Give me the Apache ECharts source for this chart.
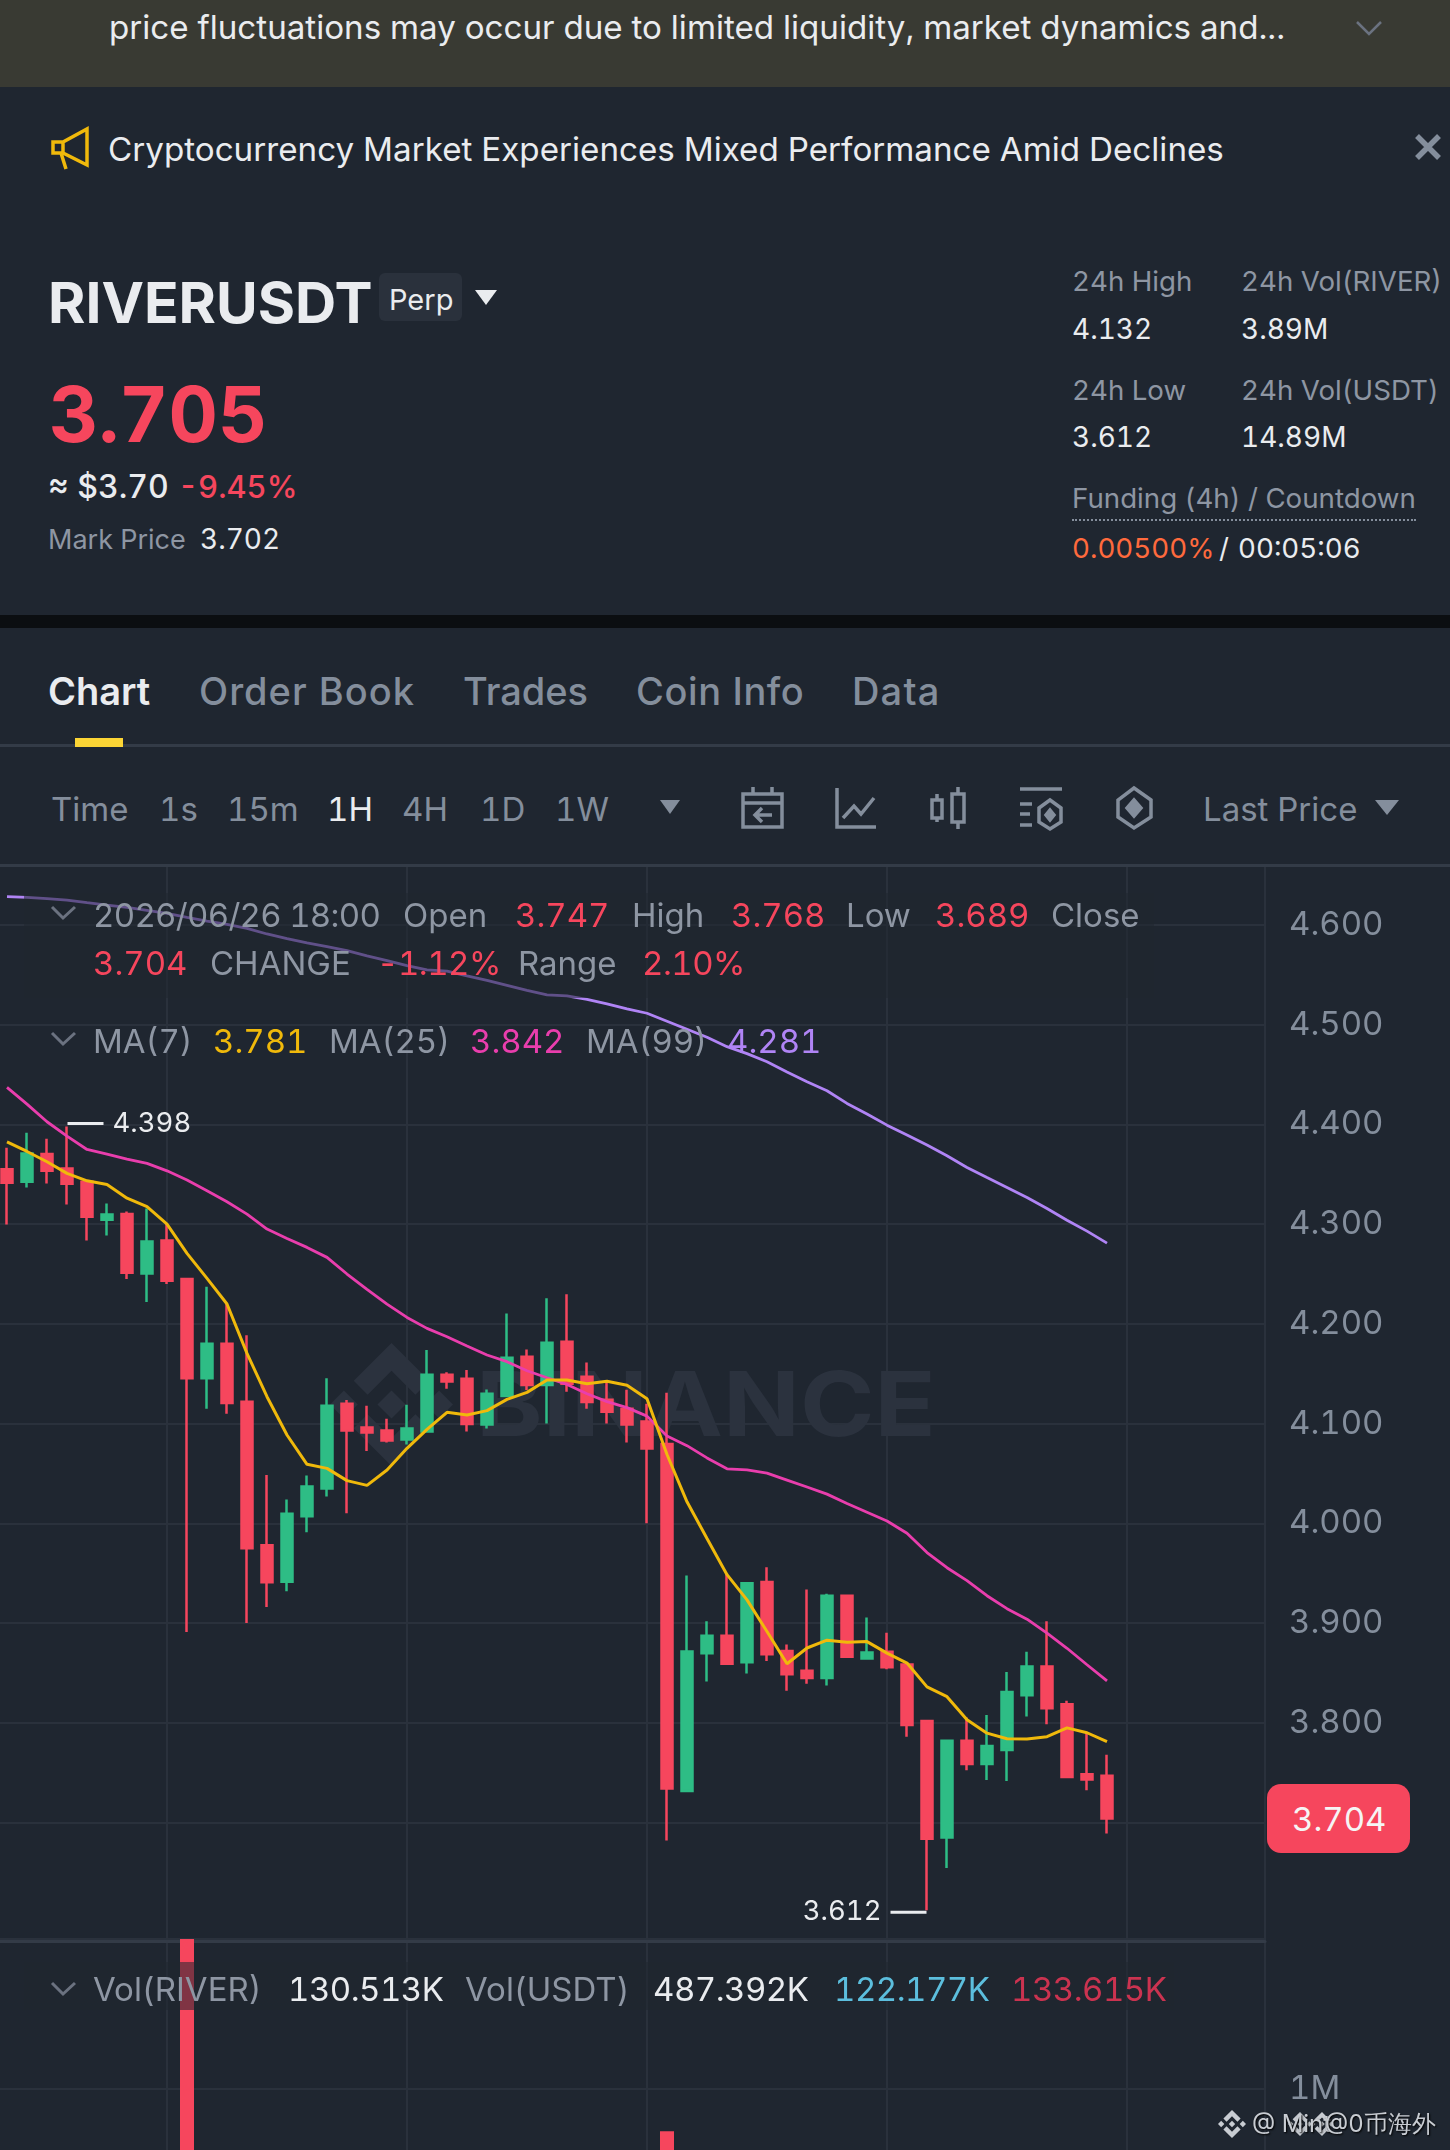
<!DOCTYPE html>
<html><head><meta charset="utf-8">
<script src="https://cdn.jsdelivr.net/npm/echarts@6/dist/echarts.min.js"></script>
<style>
html,body{margin:0;padding:0;background:#1F2630;width:1450px;height:2150px;overflow:hidden;font-family:Inter,"Noto Sans",sans-serif;font-variant-numeric:tabular-nums}
#chart{position:absolute;left:0;top:0;width:1450px;height:2150px}
.b{position:absolute}
.t{position:absolute;white-space:nowrap;transform:translateY(-50%);color:#848E9C;line-height:1.2}
.g{color:#8E96A3}.w{color:#EAECEF}.r{color:#F6465D}
.s{font-size:27.7px}.v{font-size:28px}.l{font-size:33px}.tab{font-size:38px;font-weight:500}
.k{letter-spacing:-.5px}
svg{position:absolute;overflow:visible}
</style></head><body>
<div id="chart"></div>
<div class="b" style="left:0;top:0;width:1450px;height:87px;background:#393A33"></div>
<div class="b" style="left:0;top:87px;width:1450px;height:528px;background:#1F2630"></div>
<div class="b" style="left:0;top:615px;width:1450px;height:13px;background:#0B0E11"></div>
<div class="b" style="left:0;top:628px;width:1450px;height:237px;background:#1F2630"></div>
<div class="b" style="left:0;top:744px;width:1450px;height:3px;background:#333B47"></div>
<div class="b" style="left:75px;top:738px;width:48px;height:9px;background:#FCD535"></div>
<div class="b" style="left:0;top:864px;width:1450px;height:3px;background:#333B47"></div>

<span class="t w" style="left:109px;top:28px;font-size:33.15px">price fluctuations may occur due to limited liquidity, market dynamics and...</span>
<svg style="left:1355px;top:20px" width="28" height="16"><path d="M2 2L14 14L26 2" fill="none" stroke="#6B7280" stroke-width="2.5"/></svg>
<svg style="left:51px;top:127px" width="38" height="44"><path d="M2 15H12L36 2V38L12 26H2ZM12 15V26M10 26L15 42" fill="none" stroke="#F0B90B" stroke-width="3.5"/></svg>
<span class="t w" style="left:108px;top:150px;font-size:33.2px">Cryptocurrency Market Experiences Mixed Performance Amid Declines</span>
<svg style="left:1414px;top:133px" width="28" height="28"><path d="M3 3L25 25M25 3L3 25" stroke="#848E9C" stroke-width="5.5"/></svg>

<span class="t w" style="left:48px;top:303px;font-size:57px;font-weight:700">RIVERUSDT</span>
<div class="b" style="left:379px;top:273px;width:83px;height:48px;background:#2A313C;border-radius:6px"></div>
<span class="t w" style="left:389px;top:300px;font-size:29px">Perp</span>
<svg style="left:475px;top:290px" width="22" height="15"><path d="M0 0H22L11 15Z" fill="#EAECEF"/></svg>
<span class="t r" style="left:49px;top:415px;font-size:76.5px;font-weight:700">3.705</span>
<span class="t w" style="left:48px;top:487px;font-size:32px;font-weight:500">≈ $3.70</span>
<span class="t r" style="left:178px;top:487px;font-size:31px;font-weight:500">-9.45%</span>
<span class="t g" style="left:48px;top:540px;font-size:27px">Mark Price</span>
<span class="t w v" style="left:200px;top:540px">3.702</span>

<span class="t g s" style="left:1072px;top:282px">24h High</span><span class="t g s" style="left:1241px;top:282px">24h Vol(RIVER)</span>
<span class="t w v" style="left:1072px;top:330px">4.132</span><span class="t w v" style="left:1241px;top:330px">3.89M</span>
<span class="t g s" style="left:1072px;top:391px">24h Low</span><span class="t g s" style="left:1241px;top:391px">24h Vol(USDT)</span>
<span class="t w v" style="left:1072px;top:438px">3.612</span><span class="t w v" style="left:1241px;top:438px">14.89M</span>
<span class="t g s" style="left:1072px;top:499px">Funding (4h) / Countdown</span>
<div class="b" style="left:1072px;top:519px;width:344px;height:0;border-top:2px dotted #848E9C"></div>
<span class="t s" style="left:1072px;top:549px;color:#FF6A3D">0.00500%</span>
<span class="t w s" style="left:1219px;top:549px">/</span>
<span class="t w s" style="left:1238px;top:549px">00:05:06</span>

<span class="t tab w" style="left:48px;top:692px;font-weight:600">Chart</span>
<span class="t tab" style="left:199px;top:692px;letter-spacing:1px">Order Book</span>
<span class="t tab" style="left:463px;top:692px">Trades</span>
<span class="t tab" style="left:636px;top:692px;letter-spacing:.6px">Coin Info</span>
<span class="t tab" style="left:852px;top:692px;letter-spacing:1.2px">Data</span>

<span class="t l" style="left:51px;top:810px">Time</span>
<span class="t l" style="left:159px;top:810px">1s</span>
<span class="t l" style="left:227px;top:810px">15m</span>
<span class="t l w" style="left:327px;top:810px">1H</span>
<span class="t l" style="left:402px;top:810px">4H</span>
<span class="t l" style="left:480px;top:810px">1D</span>
<span class="t l" style="left:555px;top:810px">1W</span>
<svg style="left:660px;top:800px" width="20" height="14"><path d="M0 0H20L10 14Z" fill="#848E9C"/></svg>
<svg style="left:741px;top:786px" width="44" height="44" fill="none" stroke="#848E9C" stroke-width="3.5"><path d="M2 8H41V41H2ZM2 17H41M12 1V8M31 1V8M31 29H14M21 22L14 29L21 36"/></svg>
<svg style="left:834px;top:786px" width="44" height="44" fill="none" stroke="#848E9C" stroke-width="3.5"><path d="M3 2V41H42M9 32L20 20L27 28L40 12"/></svg>
<svg style="left:930px;top:786px" width="38" height="44" fill="none" stroke="#848E9C" stroke-width="3.5"><path d="M2 14H12V32H2ZM7 8V14M7 32V36M22 8H34V36H22ZM28 1V8M28 36V43"/></svg>
<svg style="left:1020px;top:786px" width="44" height="44" fill="none" stroke="#848E9C" stroke-width="3.5"><path d="M0 3H42M0 18H12M0 39H12M0 28H10M30 14L41 22V36L30 43L19 36V22Z"/><path d="M30 24L34 29L30 34L26 29Z" fill="#848E9C"/></svg>
<svg style="left:1116px;top:786px" width="38" height="44" fill="none" stroke="#848E9C" stroke-width="3.5"><path d="M18 2L35 14V31L18 42L2 31V14Z"/><path d="M18 14L25 22L18 30L11 22Z" fill="#848E9C"/></svg>
<span class="t l" style="left:1203px;top:810px">Last Price</span>
<svg style="left:1375px;top:800px" width="24" height="15"><path d="M0 0H24L12 15Z" fill="#848E9C"/></svg>

<svg style="left:50px;top:905px" width="28" height="16"><path d="M2 2L13 13L25 2" fill="none" stroke="#6B7280" stroke-width="3"/></svg>
<span class="t g l" style="left:93px;top:916px;letter-spacing:-.7px">2026/06/26 18:00</span>
<span class="t g l" style="left:403px;top:916px">Open</span><span class="t r l" style="left:515px;top:916px">3.747</span>
<span class="t g l" style="left:632px;top:916px">High</span><span class="t r l" style="left:731px;top:916px">3.768</span>
<span class="t g l" style="left:846px;top:916px">Low</span><span class="t r l" style="left:935px;top:916px">3.689</span>
<span class="t g l" style="left:1051px;top:916px">Close</span>
<span class="t r l" style="left:93px;top:964px">3.704</span>
<span class="t g l" style="left:210px;top:964px">CHANGE</span><span class="t r l k" style="left:377px;top:964px">-1.12%</span>
<span class="t g l" style="left:518px;top:964px">Range</span><span class="t r l k" style="left:642px;top:964px">2.10%</span>
<svg style="left:50px;top:1031px" width="28" height="16"><path d="M2 2L13 13L25 2" fill="none" stroke="#6B7280" stroke-width="3"/></svg>
<span class="t g l" style="left:93px;top:1042px">MA(7)</span><span class="t l" style="left:213px;top:1042px;color:#F0B90B">3.781</span>
<span class="t g l" style="left:329px;top:1042px">MA(25)</span><span class="t l" style="left:470px;top:1042px;color:#E93EAD">3.842</span>
<span class="t g l" style="left:586px;top:1042px">MA(99)</span><span class="t l" style="left:727px;top:1042px;color:#B084F5">4.281</span>

<svg style="left:50px;top:1981px" width="28" height="16"><path d="M2 2L13 13L25 2" fill="none" stroke="#6B7280" stroke-width="3"/></svg>
<span class="t g l" style="left:93px;top:1990px">Vol(RIVER)</span><span class="t w l k" style="left:288px;top:1990px">130.513K</span>
<span class="t g l" style="left:465px;top:1990px">Vol(USDT)</span><span class="t w l k" style="left:653px;top:1990px">487.392K</span>
<span class="t l k" style="left:834px;top:1990px;color:#5CBEDD">122.177K</span>
<span class="t l k" style="left:1011px;top:1990px;color:#CB3350">133.615K</span>

<div class="b" style="left:1267px;top:1784px;width:143px;height:69px;background:#F6465D;border-radius:14px"></div>
<span class="t" style="left:1292px;top:1820px;font-size:33px;color:#F5F5F5">3.704</span>

<span class="t" style="left:1252px;top:2124px;font-size:24px;color:#C8CCD2;text-shadow:1px 1px 2px #000">@ Mint</span>
<span class="t" style="left:1325px;top:2124px;font-size:24px;color:#C8CCD2;text-shadow:1px 1px 2px #000">@0币海外</span>

<script>
const candleIndex = Array.from({length: 56}, (_, i) => i);
const opens = [4.355,4.3425,4.3703,4.3559,4.3425,4.3044,4.3101,4.2506,4.2837,4.245,4.1454,4.1801,4.122,3.978,3.9415,4.007,4.035,4.12,4.096,4.093,4.084,4.0922,4.149,4.145,4.0992,4.1276,4.1671,4.1387,4.1821,4.147,4.124,4.115,4.102,4.0796,3.7316,3.8698,3.8873,3.8606,3.9411,3.8719,3.8522,3.8448,3.9274,3.8645,3.8712,3.8585,3.8019,3.6849,3.7819,3.7587,3.7728,3.8276,3.8564,3.8185,3.7485,3.747];
const closes = [4.3415,4.3709,4.3535,4.3405,4.3074,4.3098,4.2513,4.2827,4.2433,4.1454,4.1801,4.1206,3.975,3.941,4.0097,4.037,4.118,4.093,4.091,4.083,4.095,4.149,4.1423,4.0996,4.13,4.1661,4.1387,4.1811,4.14,4.1216,4.112,4.099,4.075,3.734,3.8715,3.8873,3.8592,3.94,3.8687,3.8487,3.8448,3.9274,3.8663,3.8705,3.8557,3.7977,3.6838,3.7819,3.7587,3.7766,3.8308,3.8564,3.8146,3.7457,3.7432,3.704];
const lows = [4.2997,4.3368,4.3409,4.3198,4.2837,4.2887,4.245,4.2219,4.24,3.891,4.115,4.11,3.9,3.916,3.932,3.991,4.027,4.01,4.0726,4.081,4.079,4.0915,4.135,4.092,4.095,4.127,4.1337,4.1,4.132,4.115,4.1,4.081,4.0,3.682,3.7305,3.8413,3.858,3.8494,3.862,3.8322,3.8392,3.8374,3.8652,3.8634,3.8536,3.7861,3.612,3.6543,3.7524,3.7425,3.7415,3.8062,3.7984,3.7443,3.7323,3.689];
const highs = [4.3766,4.3916,4.3856,4.398,4.344,4.3208,4.3128,4.3158,4.3007,4.2456,4.2373,4.2206,4.1885,4.0485,4.024,4.048,4.1454,4.1236,4.118,4.105,4.119,4.1738,4.1514,4.1537,4.1343,4.2105,4.1744,4.2256,4.2296,4.1614,4.1417,4.134,4.12,4.131,3.9478,3.9018,3.95,3.9405,3.9559,3.8786,3.9337,3.9295,3.9274,3.9056,3.8902,3.8592,3.8019,3.7819,3.8054,3.8079,3.8508,3.8712,3.9018,3.822,3.7896,3.768];
const ma7 = [4.3826,4.3729,4.3626,4.3509,4.3435,4.3398,4.3261,4.3175,4.3001,4.2707,4.2456,4.2199,4.1704,4.127,4.0886,4.0592,4.0551,4.0428,4.0381,4.0535,4.0752,4.0942,4.1113,4.1086,4.113,4.1243,4.1313,4.1437,4.1437,4.14,4.1424,4.1384,4.125,4.069,4.0216,3.9847,3.9485,3.9232,3.8916,3.8592,3.875,3.8828,3.8807,3.8814,3.8698,3.8599,3.836,3.8262,3.803,3.7896,3.784,3.7837,3.7861,3.7949,3.79,3.781];
const ma25 = [4.4371,4.4204,4.4027,4.3883,4.3749,4.3703,4.3652,4.3609,4.3535,4.3442,4.3335,4.3225,4.3101,4.2951,4.2857,4.2767,4.2667,4.25,4.2346,4.2199,4.2065,4.1955,4.1871,4.1778,4.1688,4.1621,4.153,4.146,4.1393,4.13,4.122,4.116,4.1075,4.0875,4.0779,4.0656,4.0547,4.0536,4.0504,4.0434,4.0364,4.0293,4.0199,4.0111,4.0023,3.99,3.9707,3.9555,3.9425,3.9274,3.9144,3.9039,3.8898,3.8747,3.8582,3.842];
const ma99 = [4.6284,4.6277,4.6264,4.625,4.6224,4.62,4.6177,4.6147,4.6117,4.6077,4.604,4.6007,4.5967,4.591,4.5863,4.582,4.5783,4.5743,4.569,4.5643,4.5593,4.555,4.5537,4.549,4.5445,4.5395,4.5345,4.53,4.529,4.5255,4.521,4.516,4.5115,4.5035,4.4955,4.4875,4.478,4.471,4.4629,4.4525,4.4428,4.4338,4.4211,4.4104,4.3993,4.3893,4.3793,4.3686,4.3569,4.3468,4.3368,4.3268,4.3157,4.304,4.293,4.281];
const visibleVolumeIndex = [9, 33];
const visibleVolumes = [1711000, 800000];
const priceTicks = ['4.600','4.500','4.400','4.300','4.200','4.100','4.000','3.900','3.800','3.700'];

const xOf = i => i + 4;
const candles = candleIndex.map(i => [xOf(i), opens[i], closes[i], lows[i], highs[i]]);
const line = arr => candleIndex.map(i => [xOf(i), arr[i]]);
const hiIdx = highs.indexOf(Math.max(...highs));
const loIdx = lows.indexOf(Math.min(...lows));
const LOGO_SHAPES = [
  [[38.73,53.2],[63.32,28.62],[87.92,53.22],[102.22,38.91],[63.32,0],[24.42,38.9]],
  [[0,63.31],[14.3,49],[28.61,63.31],[14.3,77.61]],
  [[38.73,73.41],[63.32,98],[87.92,73.4],[102.23,87.69],[63.33,126.6],[24.42,87.72]],
  [[98,63.31],[112.3,49],[126.61,63.3],[112.31,77.62]],
  [[77.83,63.3],[63.32,48.78],[48.81,63.28],[63.32,77.78]]
];
const logo = (x, y, s, fill, z) => ({type: 'group', x, y, scaleX: s / 126.61, scaleY: s / 126.61, silent: true,
  children: LOGO_SHAPES.map(points => ({type: 'polygon', z, silent: true, shape: {points}, style: {fill}}))});
const BG = '#1F2630', GRID = '#2A313C', AXIS = '#333B47';
const xBase = {type: 'value', min: 0, max: 66.9, interval: 12, axisLabel: {show: false}, axisTick: {show: false}, axisLine: {show: false}, splitLine: {show: false}};
const extremeText = {color: '#EAECEF', fontSize: 27.5, fontFamily: 'Inter'};
const chart = echarts.init(document.getElementById('chart'), null, {width: 1450, height: 2150});
chart.setOption({
  animation: false,
  backgroundColor: BG,
  textStyle: {fontFamily: 'Inter'},
  grid: [
    {left: -73, width: 1338, top: 866, height: 1075, outerBoundsMode: 'none'},
    {left: -73, width: 1338, top: 925, height: 897.5, outerBoundsMode: 'none'},
    {left: -73, width: 1338, top: 1939, height: 361, outerBoundsMode: 'none'},
    {left: -73, width: 1338, top: 925, height: 997.2, outerBoundsMode: 'none'}
  ],
  xAxis: [
    {...xBase, gridIndex: 0, axisLine: {show: true, lineStyle: {color: AXIS, width: 3}}, splitLine: {show: true, lineStyle: {color: GRID, width: 2}}},
    {...xBase, gridIndex: 1},
    {...xBase, gridIndex: 2, splitLine: {show: true, lineStyle: {color: GRID, width: 2}}},
    {...xBase, gridIndex: 3}
  ],
  yAxis: [
    {type: 'value', gridIndex: 0, position: 'right', min: 0, max: 1, interval: 1, axisLabel: {show: false}, axisTick: {show: false}, splitLine: {show: false}, axisLine: {show: true, lineStyle: {color: AXIS, width: 2}}},
    {type: 'value', gridIndex: 1, position: 'right', min: 3.7, max: 4.6, interval: 0.1, axisLine: {show: false}, axisTick: {show: false},
      axisLabel: {color: '#848E9C', fontSize: 33, fontFamily: 'Inter', margin: 24, formatter: v => priceTicks.find(t => Math.abs(+t - v) < 1e-6) || ''},
      splitLine: {show: true, lineStyle: {color: GRID, width: 2}}},
    {type: 'value', gridIndex: 2, position: 'right', min: 0, max: 1711000, interval: 1000000, axisTick: {show: false},
      axisLine: {show: true, lineStyle: {color: AXIS, width: 2}},
      axisLabel: {color: '#848E9C', fontSize: 33, fontFamily: 'Inter', margin: 24, formatter: v => v === 1000000 ? '1M' : ''},
      splitLine: {show: true, lineStyle: {color: GRID, width: 2}}},
    {type: 'value', gridIndex: 3, show: false, min: 3.6, max: 4.6, interval: 0.1}
  ],
  series: [
    {type: 'candlestick', name: 'Price', xAxisIndex: 1, yAxisIndex: 1, clip: false, barWidth: 11.5, data: candles, z: 3,
      itemStyle: {color: '#2EBD85', color0: '#F6465D', borderColor: '#2EBD85', borderColor0: '#F6465D', borderWidth: 2.5}},
    {type: 'line', name: 'MA(7)', xAxisIndex: 1, yAxisIndex: 1, clip: false, showSymbol: false, data: line(ma7), z: 5, lineStyle: {color: '#F0B90B', width: 3}},
    {type: 'line', name: 'MA(25)', xAxisIndex: 1, yAxisIndex: 1, clip: false, showSymbol: false, data: line(ma25), z: 4, lineStyle: {color: '#E93EAD', width: 2.8}},
    {type: 'line', name: 'MA(99)', xAxisIndex: 1, yAxisIndex: 1, clip: false, showSymbol: false, data: line(ma99), z: 4, lineStyle: {color: '#B084F5', width: 2.8}},
    {type: 'bar', name: 'Vol', xAxisIndex: 2, yAxisIndex: 2, barWidth: 14, z: 3, itemStyle: {color: '#F6465D'},
      data: visibleVolumeIndex.map((i, k) => [xOf(i), visibleVolumes[k]])},
    {type: 'scatter', name: '24h high', xAxisIndex: 3, yAxisIndex: 3, symbolSize: 1, clip: false, silent: true, z: 6, itemStyle: {color: 'rgba(0,0,0,0)'},
      data: [[xOf(hiIdx), highs[hiIdx]]],
      label: {show: true, opacity: 1, position: 'right', distance: 0, offset: [0, -3], formatter: p => '{d|}{t|' + p.value[1].toFixed(3) + '}',
        rich: {d: {width: 36, height: 3, backgroundColor: '#EAECEF'}, t: {...extremeText, padding: [0, 0, 0, 9]}}}},
    {type: 'scatter', name: '24h low', xAxisIndex: 3, yAxisIndex: 3, symbolSize: 1, clip: false, silent: true, z: 6, itemStyle: {color: 'rgba(0,0,0,0)'},
      data: [[xOf(loIdx), lows[loIdx]]],
      label: {show: true, opacity: 1, position: 'left', distance: 0, offset: [0, 2], formatter: p => '{t|' + p.value[1].toFixed(3) + '}{d|}',
        rich: {d: {width: 36, height: 3, backgroundColor: '#EAECEF'}, t: {...extremeText, padding: [0, 9, 0, 0]}}}}
  ],
  graphic: [
    logo(330, 1343, 123, '#2B323E', 1),
    {type: 'text', z: 1, silent: true, x: 476, y: 1364, scaleX: 1.12, style: {text: 'BINANCE', fill: '#2B323E', font: '700 90px Inter'}},
    {type: 'rect', z: 20, silent: true, shape: {x: 24, y: 893, width: 1130, height: 105}, style: {fill: 'rgba(31,38,48,0.55)'}},
    {type: 'rect', z: 20, silent: true, shape: {x: 24, y: 1962, width: 1150, height: 48}, style: {fill: 'rgba(31,38,48,0.55)'}},
    logo(1218, 2110, 28, '#C8CCD2', 30),
    logo(1288, 2112, 24, '#C8CCD2', 30),
    logo(1310, 2112, 24, '#C8CCD2', 30)
  ]
});
</script>
</body></html>
